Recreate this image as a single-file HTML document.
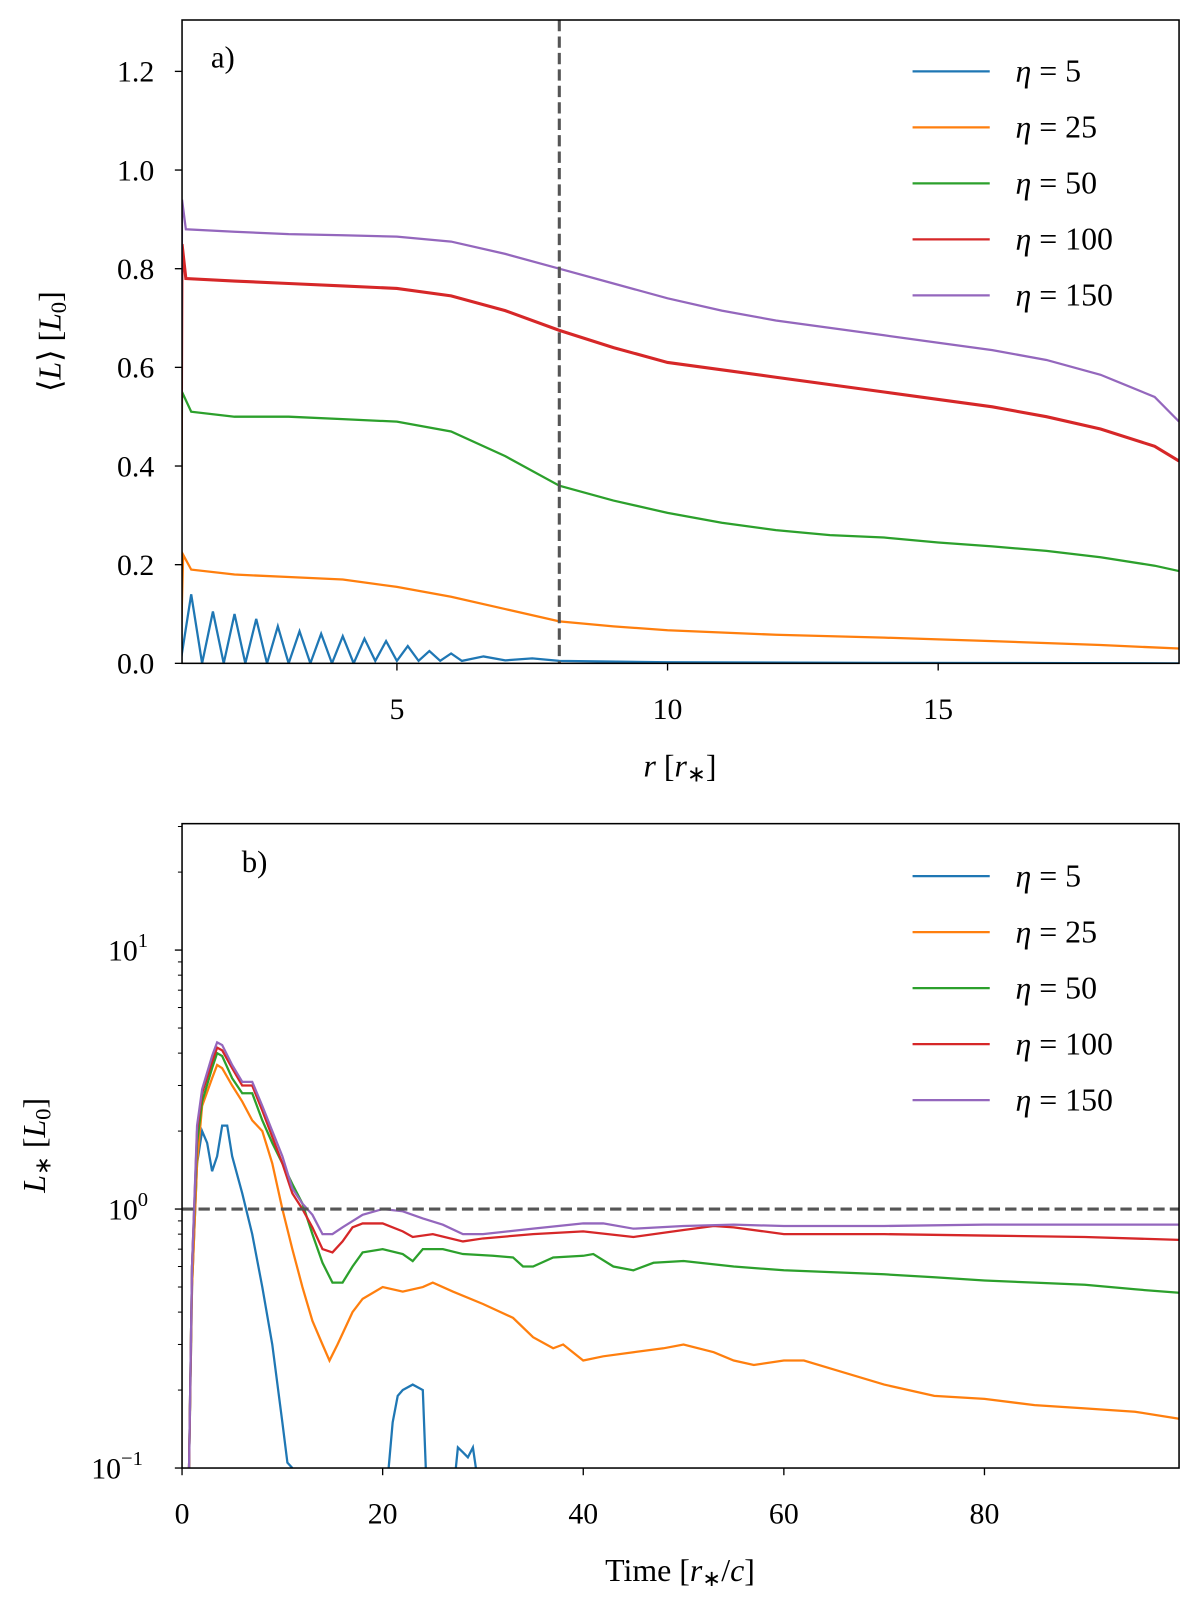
<!DOCTYPE html>
<html><head><meta charset="utf-8"><style>
body{margin:0;background:#fff}
svg{display:block;font-family:"Liberation Serif",serif}
text{fill:#000}
</style></head><body>
<svg id="fig" width="1200" height="1613" xmlns="http://www.w3.org/2000/svg">
<g transform="matrix(1.0289,0,0,1.0277,-1.1,1.5)">
<g id="pa"></g>
<g id="pb"></g>
</g>
</svg>
<script>
const NS="http://www.w3.org/2000/svg";
const colors=["#1f77b4","#ff7f0e","#2ca02c","#d62728","#9467bd"];
const legendLabels=["5","25","50","100","150"];
// Panel a data: [r, <L>]
const aBlue=[[1.0,0],[1.2,0.14],[1.4,0],[1.6,0.105],[1.8,0],[2.0,0.1],[2.2,0],[2.4,0.09],[2.6,0],[2.8,0.075],[3.0,0],[3.2,0.065],[3.4,0],[3.6,0.06],[3.8,0],[4.0,0.055],[4.2,0],[4.4,0.05],[4.6,0.005],[4.8,0.045],[5.0,0.005],[5.2,0.035],[5.4,0.005],[5.6,0.025],[5.8,0.005],[6.0,0.02],[6.2,0.005],[6.6,0.014],[7.0,0.006],[7.5,0.01],[8,0.005],[10,0.002],[14,0.001],[19.45,0.0]];
const aOrange=[[1.0,0],[1.05,0.22],[1.2,0.19],[2,0.18],[3,0.175],[4,0.17],[5,0.155],[6,0.135],[7,0.11],[8,0.085],[9,0.075],[10,0.067],[12,0.058],[14,0.052],[16,0.045],[18,0.037],[19.45,0.03]];
const aGreen=[[1.0,0],[1.03,0.55],[1.2,0.51],[2,0.5],[3,0.5],[4,0.495],[5,0.49],[6,0.47],[7,0.42],[8,0.36],[9,0.33],[10,0.305],[11,0.285],[12,0.27],[13,0.26],[14,0.255],[15,0.245],[16,0.237],[17,0.228],[18,0.215],[19,0.198],[19.45,0.187]];
const aRed=[[1.0,0],[1.03,0.85],[1.1,0.78],[2,0.775],[3,0.77],[4,0.765],[5,0.76],[6,0.745],[7,0.715],[8,0.675],[9,0.64],[10,0.61],[11,0.595],[12,0.58],[13,0.565],[14,0.55],[15,0.535],[16,0.52],[17,0.5],[18,0.475],[19,0.44],[19.45,0.41]];
const aPurple=[[1.0,0],[1.03,0.94],[1.1,0.88],[2,0.875],[3,0.87],[4,0.868],[5,0.865],[6,0.855],[7,0.83],[8,0.80],[9,0.77],[10,0.74],[11,0.715],[12,0.695],[13,0.68],[14,0.665],[15,0.65],[16,0.635],[17,0.615],[18,0.585],[19,0.54],[19.45,0.49]];
const aYTicks=[0,0.2,0.4,0.6,0.8,1.0,1.2];
const aXTicks=[5,10,15];
// Panel b data: [t, L*] ; null = gap
const bBlue=[[0.7,0.1],[1,0.5],[1.5,1.5],[2,2.0],[2.5,1.8],[3,1.4],[3.5,1.6],[4,2.1],[4.5,2.1],[5,1.6],[6,1.15],[7,0.8],[8,0.5],[9,0.3],[10,0.15],[10.5,0.105],[11,0.1],null,[20.6,0.1],[21,0.15],[21.5,0.19],[22,0.2],[23,0.21],[24,0.2],[24.3,0.1],null,[27.3,0.1],[27.5,0.12],[28,0.115],[28.5,0.11],[29,0.12],[29.3,0.1]];
const bOrange=[[0.7,0.1],[1,0.5],[1.5,1.5],[2,2.5],[3,3.2],[3.5,3.6],[4,3.5],[5,3.0],[6,2.6],[7,2.2],[8,2.0],[9,1.5],[10,1.0],[11,0.7],[12,0.5],[13,0.37],[14,0.3],[14.7,0.26],[15.5,0.3],[17,0.4],[18,0.45],[20,0.5],[22,0.48],[24,0.5],[25,0.52],[27,0.48],[30,0.43],[33,0.38],[35,0.32],[37,0.29],[38,0.3],[40,0.26],[42,0.27],[45,0.28],[48,0.29],[50,0.3],[53,0.28],[55,0.26],[57,0.25],[60,0.26],[62,0.26],[65,0.24],[70,0.21],[75,0.19],[80,0.185],[85,0.175],[90,0.17],[95,0.165],[99.4,0.155]];
const bGreen=[[0.7,0.1],[1,0.6],[1.5,1.8],[2,2.6],[3,3.5],[3.5,4.0],[4,3.9],[5,3.2],[6,2.8],[7,2.8],[8,2.2],[9,1.8],[10,1.5],[11,1.25],[12,1.05],[13,0.8],[14,0.62],[15,0.52],[16,0.52],[17,0.6],[18,0.68],[20,0.7],[22,0.67],[23,0.63],[24,0.7],[26,0.7],[28,0.67],[31,0.66],[33,0.65],[34,0.6],[35,0.6],[37,0.65],[40,0.66],[41,0.67],[43,0.6],[45,0.58],[47,0.62],[50,0.63],[55,0.6],[60,0.58],[65,0.57],[70,0.56],[75,0.545],[80,0.53],[85,0.52],[90,0.51],[95,0.49],[99.4,0.475]];
const bRed=[[0.7,0.1],[1,0.6],[1.5,2],[2,2.8],[3,3.7],[3.5,4.2],[4,4.1],[5,3.5],[6,3.0],[7,3.0],[8,2.4],[9,1.9],[10,1.5],[11,1.15],[12,1.0],[13,0.85],[14,0.7],[15,0.68],[16,0.75],[17,0.85],[18,0.88],[20,0.88],[22,0.82],[23,0.78],[25,0.8],[28,0.75],[30,0.77],[35,0.8],[40,0.82],[45,0.78],[50,0.83],[53,0.86],[55,0.85],[60,0.8],[70,0.8],[80,0.79],[90,0.78],[99.4,0.76]];
const bPurple=[[0.7,0.1],[1,0.6],[1.5,2.1],[2,2.9],[3,3.9],[3.5,4.4],[4,4.3],[5,3.6],[6,3.1],[7,3.1],[8,2.5],[9,2.0],[10,1.6],[11,1.2],[12,1.05],[13,0.95],[14,0.8],[15,0.8],[16,0.85],[18,0.95],[20,1.0],[22,0.98],[24,0.92],[26,0.87],[28,0.8],[30,0.8],[35,0.84],[40,0.88],[42,0.88],[45,0.84],[50,0.86],[55,0.87],[60,0.86],[70,0.86],[80,0.87],[90,0.87],[99.4,0.87]];
const bXTicks=[0,20,40,60,80];
const bYDecades=[-1,0,1];

function el(tag,attrs,parent){const e=document.createElementNS(NS,tag);for(const k in attrs)e.setAttribute(k,attrs[k]);parent.appendChild(e);return e;}
function txt(s,attrs,parent){const t=el("text",attrs,parent);t.innerHTML=s;return t;}

const L=178,R=1147;
const aT=18,aB=644;
const ax=r=>L+(r-1.03)*(R-L)/(19.45-1.03);
const ay=v=>aB-v*(aB-68)/1.2;
const bT=800,bB=1427;
const bx=t=>L+t*(R-L)/99.4;
const by=v=>1175-Math.log10(v)*252;

function path(data,fx,fy){let d="",pen=false;for(const p of data){if(p===null){pen=false;continue;}d+=(pen?"L":"M")+fx(p[0]).toFixed(1)+","+fy(p[1]).toFixed(1);pen=true;}return d;}

function legend(g,y0){
  for(let i=0;i<5;i++){
    const y=y0+i*54.5;
    const ln=el("line",{x1:888,x2:963,y1:y,y2:y,stroke:colors[i],"stroke-width":2.2},g);
    
    
    const t=txt('<tspan font-style="italic">η</tspan> = '+legendLabels[i],{x:988,y:y+10,"font-size":31},g);
    
    
  }
}

// ---- Panel a
const pa=document.getElementById("pa");
const clipA=el("clipPath",{id:"ca"},pa);el("rect",{x:L,y:aT,width:R-L,height:aB-aT},clipA);
const aSeries=[aBlue,aOrange,aGreen,aRed,aPurple];
const ga=el("g",{"clip-path":"url(#ca)"},pa);
aSeries.forEach((s,i)=>{const p=el("path",{d:path(s,ax,ay),fill:"none",stroke:colors[i],"stroke-width":i==3?3:2.2},ga);
 
 });
const va=el("line",{x1:ax(8),x2:ax(8),y1:aT,y2:aB,stroke:"#555","stroke-width":3,"stroke-dasharray":"11,5"},pa);


el("rect",{x:L,y:aT,width:R-L,height:aB-aT,fill:"none",stroke:"#000","stroke-width":1.5},pa);
aYTicks.forEach(v=>{el("line",{x1:L-7,x2:L,y1:ay(v),y2:ay(v),stroke:"#000","stroke-width":1.3},pa);
 const t=txt(v.toFixed(1),{x:151,y:ay(v)+10,"font-size":29,"text-anchor":"end"},pa);
 
 });
aXTicks.forEach(v=>{el("line",{x1:ax(v),x2:ax(v),y1:aB,y2:aB+7,stroke:"#000","stroke-width":1.3},pa);
 const t=txt(String(v),{x:ax(v),y:698,"font-size":29,"text-anchor":"middle"},pa);
 
 });
let t1=txt('<tspan font-style="italic">r</tspan> [<tspan font-style="italic">r</tspan><tspan font-size="22" dy="5">∗</tspan><tspan dy="-5">]</tspan>',{x:662,y:754,"font-size":31,"text-anchor":"middle"},pa);

let t2=txt('⟨<tspan font-style="italic">L</tspan>⟩ [<tspan font-style="italic">L</tspan><tspan font-size="22" dy="5">0</tspan><tspan dy="-5">]</tspan>',{x:0,y:0,"font-size":31,"text-anchor":"middle",transform:"translate(60,331) rotate(-90)"},pa);

let t3=txt("a)",{x:206,y:64,"font-size":30},pa);

legend(pa,68);

// ---- Panel b
const pb=document.getElementById("pb");
const clipB=el("clipPath",{id:"cb"},pb);el("rect",{x:L,y:bT,width:R-L,height:bB-bT},clipB);
const bSeries=[bBlue,bOrange,bGreen,bRed,bPurple];
const gb=el("g",{"clip-path":"url(#cb)"},pb);
bSeries.forEach((s,i)=>{const p=el("path",{d:path(s,bx,by),fill:"none",stroke:colors[i],"stroke-width":2.2},gb);
 
 });
const hb=el("line",{x1:L,x2:R,y1:by(1),y2:by(1),stroke:"#555","stroke-width":3,"stroke-dasharray":"11,5"},pb);


el("rect",{x:L,y:bT,width:R-L,height:bB-bT,fill:"none",stroke:"#000","stroke-width":1.5},pb);
bYDecades.forEach(d=>{const y=by(Math.pow(10,d));
 el("line",{x1:L-7,x2:L,y1:y,y2:y,stroke:"#000","stroke-width":1.3},pb);
 const t=txt('10<tspan font-size="20" dy="-13">'+(d<0?'−'+(-d):d)+'</tspan>',{x:d<0?140:145,y:y+10,"font-size":29,"text-anchor":"end"},pb);
 
 
 for(let m=2;m<10;m++){const yy=by(m*Math.pow(10,d));if(yy>bT)el("line",{x1:L-4,x2:L,y1:yy,y2:yy,stroke:"#000","stroke-width":1},pb);}
});
bXTicks.forEach(v=>{el("line",{x1:bx(v),x2:bx(v),y1:bB,y2:bB+7,stroke:"#000","stroke-width":1.3},pb);
 const t=txt(String(v),{x:bx(v),y:1481,"font-size":29,"text-anchor":"middle"},pb);
 
 });
let t4=txt('Time [<tspan font-style="italic">r</tspan><tspan font-size="22" dy="5">∗</tspan><tspan dy="-5">/</tspan><tspan font-style="italic">c</tspan>]',{x:662,y:1537,"font-size":31,"text-anchor":"middle"},pb);

let t5=txt('<tspan font-style="italic">L</tspan><tspan font-size="22" dy="5">∗</tspan><tspan dy="-5"> [</tspan><tspan font-style="italic">L</tspan><tspan font-size="22" dy="5">0</tspan><tspan dy="-5">]</tspan>',{x:0,y:0,"font-size":31,"text-anchor":"middle",transform:"translate(45,1113) rotate(-90)"},pb);

let t6=txt("b)",{x:236,y:847,"font-size":30},pb);

legend(pb,851);
</script>
</body></html>
